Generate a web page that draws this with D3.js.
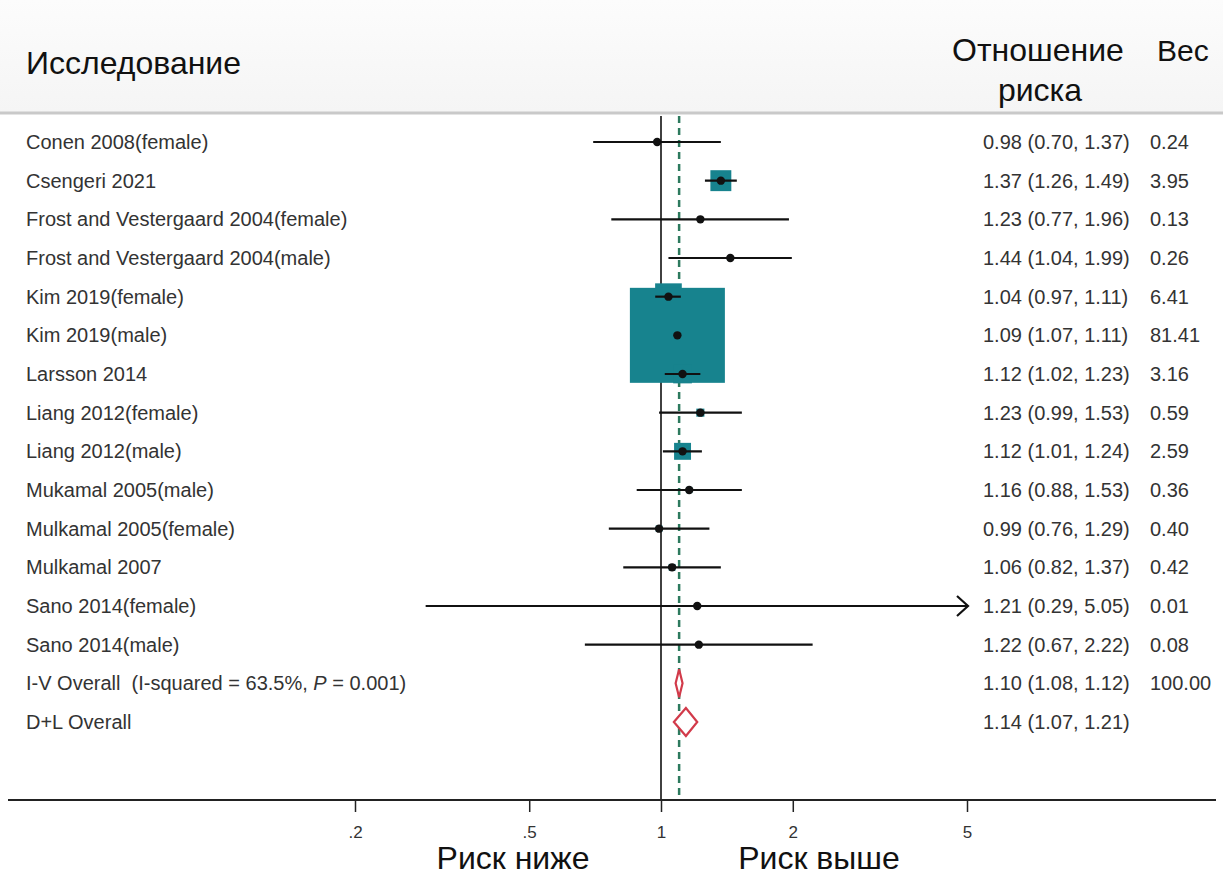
<!DOCTYPE html>
<html>
<head>
<meta charset="utf-8">
<script src="https://cdn.jsdelivr.net/npm/d3@7"></script>
<style>
  html, body { margin: 0; padding: 0; background: #fff; }
  svg { display: block; font-family: 'Liberation Sans', Arial, sans-serif; }
</style>
</head>
<body>
<svg id="chart"></svg>
<script>
const width = 1223
const height = 875

// study data
const studies = [
  'Conen 2008(female)', 'Csengeri 2021', 'Frost and Vestergaard 2004(female)',
  'Frost and Vestergaard 2004(male)', 'Kim 2019(female)', 'Kim 2019(male)',
  'Larsson 2014', 'Liang 2012(female)', 'Liang 2012(male)', 'Mukamal 2005(male)',
  'Mulkamal 2005(female)', 'Mulkamal 2007', 'Sano 2014(female)', 'Sano 2014(male)'
]
const rr = [0.98, 1.37, 1.23, 1.44, 1.04, 1.09, 1.12, 1.23, 1.12, 1.16, 0.99, 1.06, 1.21, 1.22]
const lower = [0.70, 1.26, 0.77, 1.04, 0.97, 1.07, 1.02, 0.99, 1.01, 0.88, 0.76, 0.82, 0.29, 0.67]
const upper = [1.37, 1.49, 1.96, 1.99, 1.11, 1.11, 1.23, 1.53, 1.24, 1.53, 1.29, 1.37, 5.05, 2.22]
const weights = [0.24, 3.95, 0.13, 0.26, 6.41, 81.41, 3.16, 0.59, 2.59, 0.36, 0.40, 0.42, 0.01, 0.08]

// pooled estimates
const pooledRR = [1.10, 1.14]
const pooledLower = [1.08, 1.07]
const pooledUpper = [1.12, 1.21]
const pooledWeight = ['100.00', '']

const tickValues = [0.2, 0.5, 1, 2, 5]
const tickLabels = ['.2', '.5', '1', '2', '5']
const axisMax = 5 // CIs beyond this get an arrow

const textColor = '#333'
const boxColor = '#17838e'
const diamondColor = '#d23a4a'
const fmt = d3.format('.2f')

const svg = d3.select('#chart').attr('width', width).attr('height', height)

/** scales */
const x = d3.scaleLog().domain([0.2, 5]).range([355, 967])
const nRows = studies.length + pooledRR.length
const y = d3.scalePoint().domain(d3.range(nRows)).range([142, 722])
const side = d3.scaleSqrt().domain([0, 81.41]).range([0, 95])

/** header band */
const grad = svg.append('defs').append('linearGradient')
  .attr('id', 'hdr').attr('x1', 0).attr('x2', 0).attr('y1', 0).attr('y2', 1)
grad.append('stop').attr('offset', '0%').attr('stop-color', '#fcfcfc')
grad.append('stop').attr('offset', '100%').attr('stop-color', '#f5f5f5')
svg.append('rect').attr('x', 0).attr('y', 0).attr('width', width).attr('height', 112)
  .attr('fill', 'url(#hdr)')
svg.append('line').attr('x1', 0).attr('x2', width).attr('y1', 113).attr('y2', 113)
  .attr('stroke', '#c9c9c9').attr('stroke-width', 3)

const header = svg.append('g').attr('fill', '#111').attr('font-size', 32)
header.append('text').attr('x', 26).attr('y', 74).text('Исследование')
header.append('text').attr('x', 952).attr('y', 61).text('Отношение')
header.append('text').attr('x', 1040).attr('y', 101)
  .attr('text-anchor', 'middle').text('риска')
header.append('text').attr('x', 1157).attr('y', 61).attr('font-size', 30).text('Вес')

/** reference lines */
svg.append('line')
  .attr('x1', x(1)).attr('x2', x(1)).attr('y1', 116).attr('y2', 800)
  .attr('stroke', '#111').attr('stroke-width', 1.6)
svg.append('line')
  .attr('x1', x(pooledRR[0])).attr('x2', x(pooledRR[0])).attr('y1', 116).attr('y2', 800)
  .attr('stroke', '#2d7a5e').attr('stroke-width', 2.5).attr('stroke-dasharray', '7,5')

/** weight boxes */
const rows = studies.map((s, i) => ({
  name: s, rr: rr[i], lo: lower[i], hi: upper[i], w: weights[i], i
}))

svg.append('g').selectAll('rect')
  .data(rows)
  .enter()
  .append('rect')
  .attr('x', d => x(d.rr) - side(d.w) / 2)
  .attr('y', d => y(d.i) - side(d.w) / 2)
  .attr('width', d => side(d.w))
  .attr('height', d => side(d.w))
  .attr('fill', boxColor)

/** CI lines */
svg.append('g').selectAll('line')
  .data(rows)
  .enter()
  .append('line')
  .attr('x1', d => x(d.lo))
  .attr('x2', d => x(Math.min(d.hi, axisMax)))
  .attr('y1', d => y(d.i))
  .attr('y2', d => y(d.i))
  .attr('stroke', '#111')
  .attr('stroke-width', 2.2)

// arrow heads for truncated CIs
svg.append('g').selectAll('path')
  .data(rows.filter(d => d.hi > axisMax))
  .enter()
  .append('path')
  .attr('d', d => {
    const ax = x(axisMax) + 1
    const ay = y(d.i)
    return `M${ax - 11},${ay - 10} L${ax},${ay} L${ax - 11},${ay + 10}`
  })
  .attr('fill', 'none')
  .attr('stroke', '#111')
  .attr('stroke-width', 2.2)

/** point estimates */
svg.append('g').selectAll('circle')
  .data(rows)
  .enter()
  .append('circle')
  .attr('cx', d => x(d.rr))
  .attr('cy', d => y(d.i))
  .attr('r', 4.2)
  .attr('fill', '#111')

/** pooled diamonds */
const pooled = pooledRR.map((v, k) => ({
  rr: v, lo: pooledLower[k], hi: pooledUpper[k], w: pooledWeight[k], i: studies.length + k
}))
svg.append('g').selectAll('path')
  .data(pooled)
  .enter()
  .append('path')
  .attr('d', d => {
    const cy = y(d.i)
    const h = 14
    return `M${x(d.lo)},${cy} L${x(d.rr)},${cy - h} L${x(d.hi)},${cy} L${x(d.rr)},${cy + h} Z`
  })
  .attr('fill', '#fff')
  .attr('stroke', diamondColor)
  .attr('stroke-width', 2.2)

/** left labels */
const labels = svg.append('g').attr('fill', textColor).attr('font-size', 20)
labels.selectAll('text.study')
  .data(rows)
  .enter()
  .append('text')
  .attr('class', 'study')
  .attr('x', 26)
  .attr('y', d => y(d.i))
  .attr('dy', '0.35em')
  .text(d => d.name)

const ivLabel = labels.append('text')
  .attr('x', 26).attr('y', y(studies.length)).attr('dy', '0.35em')
ivLabel.append('tspan').text('I-V Overall\u00a0\u00a0(I-squared = 63.5%, ')
ivLabel.append('tspan').attr('font-style', 'italic').text('P')
ivLabel.append('tspan').text(' = 0.001)')
labels.append('text')
  .attr('x', 26).attr('y', y(studies.length + 1)).attr('dy', '0.35em')
  .text('D+L Overall')

/** right columns */
const allRows = rows.concat(pooled)
labels.selectAll('text.est')
  .data(allRows)
  .enter()
  .append('text')
  .attr('class', 'est')
  .attr('x', 983)
  .attr('y', d => y(d.i))
  .attr('dy', '0.35em')
  .text(d => `${fmt(d.rr)} (${fmt(d.lo)}, ${fmt(d.hi)})`)

labels.selectAll('text.wt')
  .data(allRows)
  .enter()
  .append('text')
  .attr('class', 'wt')
  .attr('x', 1150)
  .attr('y', d => y(d.i))
  .attr('dy', '0.35em')
  .text(d => (typeof d.w === 'string' ? d.w : fmt(d.w)))

/** x axis */
svg.append('line')
  .attr('x1', 8).attr('x2', 1216).attr('y1', 800).attr('y2', 800)
  .attr('stroke', '#222').attr('stroke-width', 2)

const xAxis = d3.axisBottom(x)
  .tickValues(tickValues)
  .tickFormat((d, k) => tickLabels[k])
  .tickSize(12)
  .tickPadding(14)

const axisG = svg.append('g')
  .attr('transform', 'translate(0, 800)')
  .call(xAxis)
axisG.select('.domain').remove()
axisG.selectAll('.tick line').attr('stroke', '#222').attr('stroke-width', 1.5)
axisG.selectAll('.tick text')
  .attr('font-family', "'Liberation Sans', Arial, sans-serif")
  .attr('font-size', 17)
  .attr('fill', textColor)

svg.append('text').attr('x', 513).attr('y', 869).attr('font-size', 32)
  .attr('text-anchor', 'middle').attr('fill', '#111').text('Риск ниже')
svg.append('text').attr('x', 819).attr('y', 869).attr('font-size', 32)
  .attr('text-anchor', 'middle').attr('fill', '#111').text('Риск выше')
</script>
</body>
</html>
